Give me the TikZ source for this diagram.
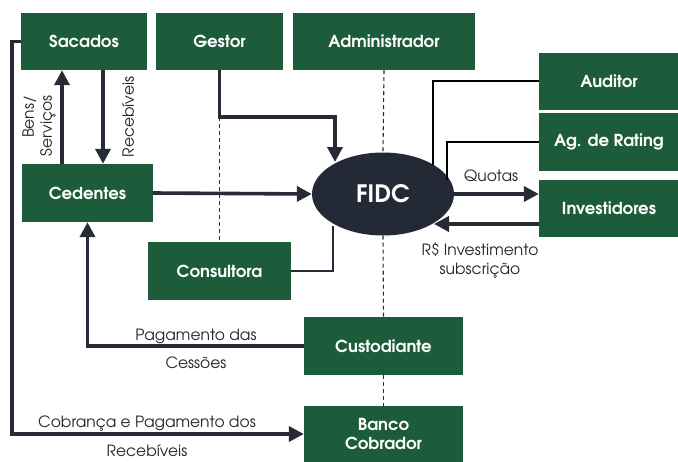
\documentclass[tikz,border=0pt]{standalone}
\usepackage{fontspec}
\setmainfont{texgyreadventor}[Extension=.otf, UprightFont=*-regular, BoldFont=*-bold]
\usetikzlibrary{arrows.meta,shapes.geometric}
\definecolor{boxgreen}{HTML}{1D5C3B}
\definecolor{darkln}{HTML}{262B36}
\definecolor{fidcfill}{HTML}{232935}
\tikzset{
  box/.style={rectangle, fill=boxgreen, text=white, inner sep=0pt,
    font=\fontsize{16.5}{19}\selectfont\bfseries, align=center},
  arr/.style={draw=darkln, line width=3.6pt, -{Triangle[length=15pt,width=15pt]}},
  thinln/.style={draw=black, line width=1.4pt},
  dashln/.style={draw=darkln, line width=1.1pt, dash pattern=on 4pt off 3pt},
  lbl/.style={font=\fontsize{15.5}{18}\selectfont, text=black!85, inner sep=0pt, align=center}
}
\begin{document}
\begin{tikzpicture}[x=1pt,y=-1pt]
\useasboundingbox[fill=white] (0,0) rectangle (678,461);
% nodes
\node[box, minimum width=126pt, minimum height=57pt] (sac) at (84,41.5) {Sacados};
\node[box, minimum width=127pt, minimum height=57pt] (ges) at (219.5,41.5) {Gestor};
\node[box, minimum width=182pt, minimum height=57pt] (adm) at (384,41.5) {Administrador};
\node[box, minimum width=140pt, minimum height=57pt] (aud) at (609,81) {Auditor};
\node[box, minimum width=140pt, minimum height=58pt] (rat) at (609,142) {Ag. de Rating};
\node[box, minimum width=140pt, minimum height=57pt] (inv) at (609,208.5) {Investidores};
\node[box, minimum width=131pt, minimum height=58pt] (ced) at (87.5,193) {Cedentes};
\node[box, minimum width=143pt, minimum height=58pt] (con) at (219.5,271) {Consultora};
\node[box, minimum width=159pt, minimum height=58pt] (cus) at (383.5,346) {Custodiante};
\node[box, minimum width=159pt, minimum height=56pt] (ban) at (383.5,434) {Banco\\Cobrador};
\node[ellipse, fill=fidcfill, text=white, minimum width=142pt, minimum height=83pt, inner sep=0pt,
  font=\fontsize{24}{26}\selectfont\bfseries] (fidc) at (383,194) {FIDC};
% helper coordinates
\coordinate (xb) at (62,0);
\coordinate (xr) at (103,0);
\coordinate (g0) at (335,117);
\coordinate (g1) at (335,162);
\coordinate (a1) at (433,165);
\coordinate (r1) at (447,180);
\coordinate (r2) at (434,224);
\coordinate (c1) at (333,226);
\coordinate (cl) at (12,0);
% dashed lines
\draw[dashln] (adm.south) -- (fidc.north);
\draw[dashln] (fidc.south) -- (cus.north);
\draw[dashln] (cus.south) -- (ban.north);
\draw[dashln] (ges.south |- g0) -- (con.north);
% arrows
\draw[arr] (sac.west) -- (sac.west -| cl) |- (ban.west);
\draw[arr] (ced.north -| xb) -- (sac.south -| xb);
\draw[arr] (sac.south -| xr) -- (ced.north -| xr);
\draw[arr] (ges.south) |- (g0) -- (g1);
\draw[arr] (ced.east) -- (fidc.west);
\draw[arr] (fidc.east) -- (fidc.east -| inv.west);
\draw[arr] (inv.west |- r2) -- (r2);
\draw[arr] (cus.west) -| (ced.south);
% thin lines
\draw[thinln] (aud.west) -| (a1);
\draw[thinln] (rat.west) -| (r1);
\draw[draw=darkln, line width=1.6pt] (con.east) -| (c1);
% labels
\node[lbl, rotate=90, align=right] (lbs) at (39,126) {Bens/\\Serviços};
\node[lbl, rotate=90] (lrc) at (128,117) {Recebíveis};
\node[lbl] (lq) at (491,176) {Quotas};
\node[lbl, align=center] (lrs) at (480,261) {R\$ Investimento\\[1pt]subscrição};
\node[lbl] (lp1) at (196,336) {Pagamento das};
\node[lbl] (lp2) at (196,363) {Cessões};
\node[lbl] (lc1) at (147,424) {Cobrança e Pagamento dos};
\node[lbl] (lc2) at (147,451) {Recebíveis};
\end{tikzpicture}
\end{document}
